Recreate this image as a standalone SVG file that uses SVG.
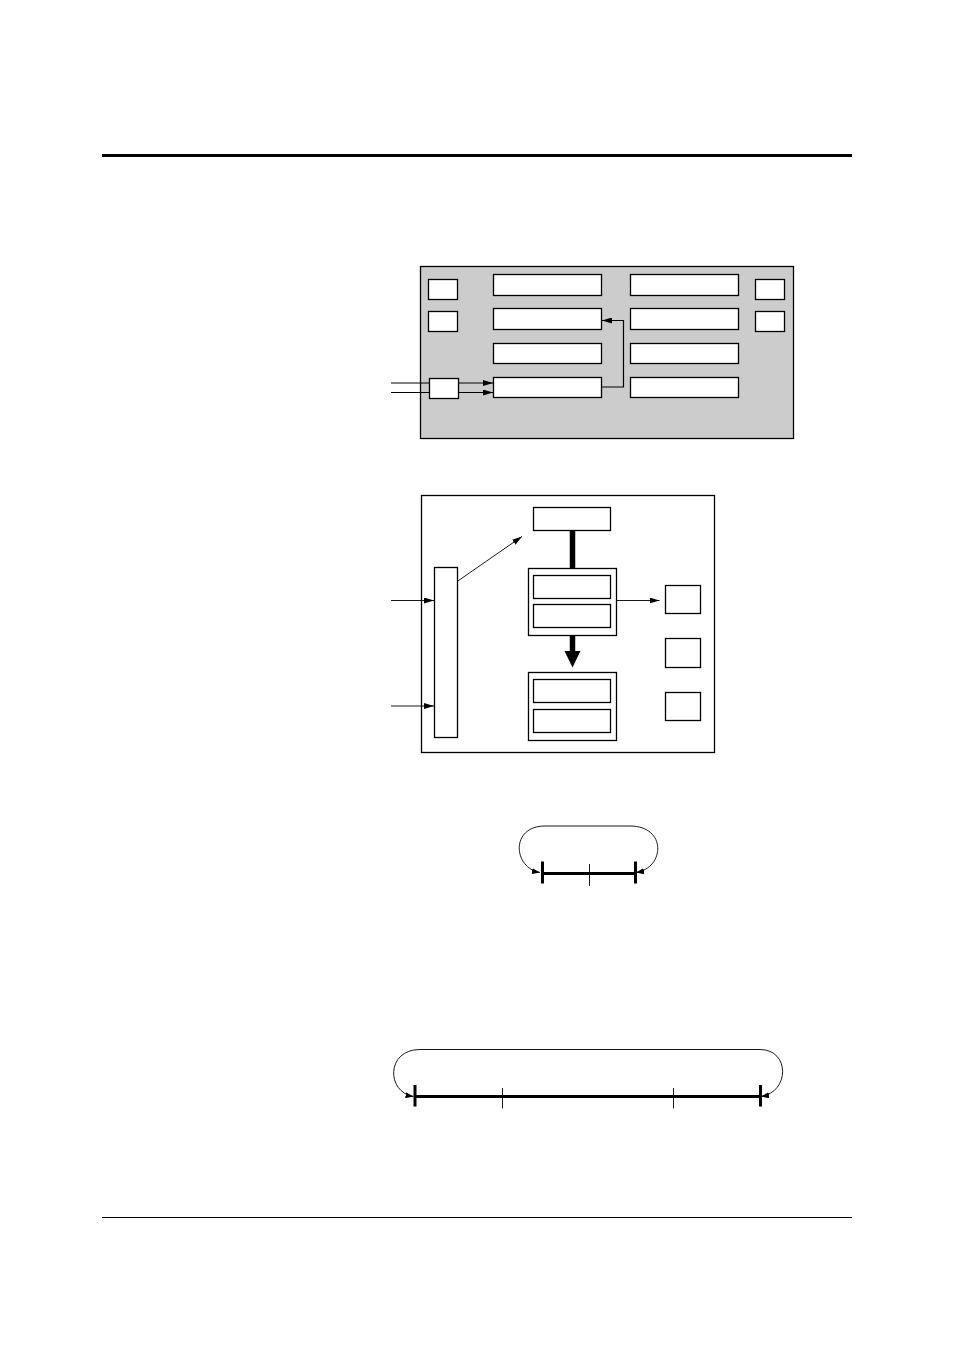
<svg xmlns="http://www.w3.org/2000/svg" width="954" height="1351" viewBox="0 0 954 1351">
<style>
.b{fill:#fff;stroke:#000;stroke-width:1.3}
.l{fill:none;stroke:#000;stroke-width:1.2}
.t{fill:none;stroke:#000;stroke-width:0.9}
.k{fill:none;stroke:#000;stroke-width:3}
</style>
<defs>
<marker id="a" viewBox="0 0 10 6" refX="10" refY="3" markerWidth="10" markerHeight="6" markerUnits="userSpaceOnUse" orient="auto"><path d="M0,0 L10,3 L0,6 Z"/></marker>
<marker id="s" viewBox="0 0 8 6" refX="8" refY="3" markerWidth="8" markerHeight="6" markerUnits="userSpaceOnUse" orient="auto-start-reverse"><path d="M0,0 L8,3 L0,6 Z"/></marker>
</defs>
<rect width="954" height="1351" fill="#fff"/>
<line x1="102" y1="155.5" x2="852" y2="155.5" stroke="#000" stroke-width="3"/>
<line x1="102" y1="1217.5" x2="852" y2="1217.5" stroke="#000" stroke-width="1"/>

<g id="fig1">
<rect id="panel1" x="420.5" y="266.5" width="373" height="172" fill="#cccccc" stroke="#000" stroke-width="1.3"/>
<rect id="sl1" class="b" x="428.5" y="279.5" width="29" height="20"/>
<rect id="sl2" class="b" x="428.5" y="311.5" width="29" height="20"/>
<rect id="sr1" class="b" x="755.5" y="279.5" width="29" height="20"/>
<rect id="sr2" class="b" x="755.5" y="311.5" width="29" height="20"/>
<rect id="c1r1" class="b" x="493.5" y="274.5" width="108" height="21"/>
<rect id="c1r2" class="b" x="493.5" y="308.5" width="108" height="21"/>
<rect id="c1r3" class="b" x="493.5" y="343.5" width="108" height="20"/>
<rect id="c1r4" class="b" x="493.5" y="377.5" width="108" height="20"/>
<rect id="c2r1" class="b" x="630.5" y="274.5" width="108" height="21"/>
<rect id="c2r2" class="b" x="630.5" y="308.5" width="108" height="21"/>
<rect id="c2r3" class="b" x="630.5" y="343.5" width="108" height="20"/>
<rect id="c2r4" class="b" x="630.5" y="377.5" width="108" height="20"/>
<rect id="inbox" class="b" x="429.5" y="378.5" width="29" height="20"/>
</g>

<g id="fig2">
<rect id="panel2" class="b" x="421.5" y="495.5" width="293" height="257"/>
<rect id="top" class="b" x="533.5" y="507.5" width="77" height="23"/>
<rect id="mid" class="b" x="528.5" y="568.5" width="88" height="67"/>
<rect id="mid1" class="b" x="533.5" y="575.5" width="77" height="23"/>
<rect id="mid2" class="b" x="533.5" y="604.5" width="77" height="23"/>
<rect id="low" class="b" x="528.5" y="672.5" width="88" height="68"/>
<rect id="low1" class="b" x="533.5" y="679.5" width="77" height="23"/>
<rect id="low2" class="b" x="533.5" y="709.5" width="77" height="23"/>
<rect id="bar" class="b" x="434.5" y="567.5" width="23" height="170"/>
<rect id="r1" class="b" x="665.5" y="585.5" width="35" height="28"/>
<rect id="r2" class="b" x="665.5" y="638.5" width="35" height="29"/>
<rect id="r3" class="b" x="665.5" y="692.5" width="35" height="28"/>
</g>

<g id="connectors">
<line class="l" x1="391" y1="383" x2="429.5" y2="383"/>
<line class="l" x1="391" y1="392.5" x2="429.5" y2="392.5"/>
<line class="l" x1="458.5" y1="383" x2="493" y2="383" marker-end="url(#a)"/>
<line class="l" x1="458.5" y1="392.5" x2="493" y2="392.5" marker-end="url(#a)"/>
<polyline class="l" points="601.5,387 623.5,387 623.5,320.5 602,320.5" marker-end="url(#a)"/>

<line class="t" x1="391" y1="600.5" x2="434" y2="600.5" marker-end="url(#a)"/>
<line class="t" x1="391" y1="706" x2="434" y2="706" marker-end="url(#a)"/>
<line class="t" x1="457.8" y1="581" x2="522" y2="536.5" marker-end="url(#a)"/>
<line class="t" x1="616.5" y1="600.5" x2="659.5" y2="600.5" marker-end="url(#a)"/>
<line x1="572.5" y1="530.5" x2="572.5" y2="568.5" stroke="#000" stroke-width="5.5"/>
<line x1="572.5" y1="635.5" x2="572.5" y2="652" stroke="#000" stroke-width="5.5"/>
<polygon points="564.5,651 580.5,651 572.5,667.5" fill="#000"/>

<path class="t" d="M540,872.5 C513,868 510,826 545,826 L630,826 C667,826 665,868 636,872.5" marker-start="url(#s)" marker-end="url(#s)"/>
<line class="k" x1="541" y1="873.5" x2="636" y2="873.5"/>
<line x1="542.5" y1="861.5" x2="542.5" y2="883.5" stroke="#000" stroke-width="3"/>
<line x1="635.5" y1="861.5" x2="635.5" y2="883.5" stroke="#000" stroke-width="3"/>
<line class="t" x1="589.5" y1="864" x2="589.5" y2="886"/>

<path class="t" d="M413.5,1096.5 C386,1092 386,1049.5 420,1049.5 L760,1049.5 C790,1049.5 790,1092 761,1096.5" marker-start="url(#s)" marker-end="url(#s)"/>
<line class="k" x1="415" y1="1096.5" x2="761" y2="1096.5"/>
<line x1="415" y1="1085" x2="415" y2="1106.5" stroke="#000" stroke-width="3"/>
<line x1="760.5" y1="1085" x2="760.5" y2="1106.5" stroke="#000" stroke-width="3"/>
<line class="t" x1="502.5" y1="1088" x2="502.5" y2="1108.5"/>
<line class="t" x1="673.5" y1="1088" x2="673.5" y2="1108.5"/>
</g>
</svg>
